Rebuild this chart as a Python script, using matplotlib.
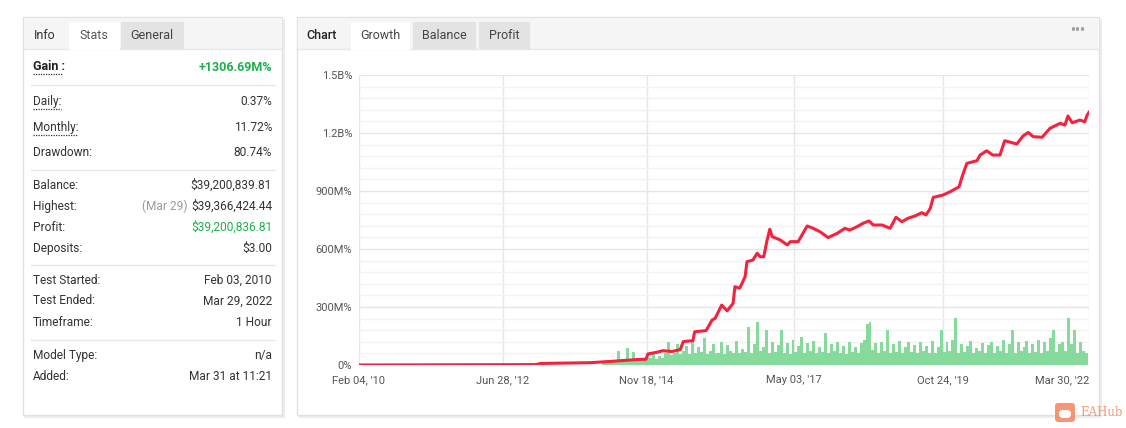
import matplotlib
matplotlib.use("Agg")
import matplotlib.pyplot as plt
from matplotlib.patches import Rectangle, FancyBboxPatch
from datetime import datetime, timedelta
import pandas as pd

plt.rcParams['font.family'] = ['Roboto', 'DejaVu Sans']

W, H = 1126, 428

# growth curve, decimal year -> growth in M%
growth_years = [2010.09, 2011.61, 2013.04, 2013.11, 2013.94, 2014.35, 2014.70, 2014.87, 2014.90,
                2015.05, 2015.15, 2015.30, 2015.44, 2015.49, 2015.65, 2015.68, 2015.87, 2015.97,
                2016.02, 2016.13, 2016.22, 2016.32, 2016.35, 2016.43, 2016.52, 2016.55, 2016.65,
                2016.72, 2016.77, 2016.83, 2016.88, 2016.93, 2016.97, 2017.10, 2017.22, 2017.27,
                2017.40, 2017.55, 2017.65, 2017.76, 2017.90, 2018.05, 2018.18, 2018.26, 2018.38,
                2018.48, 2018.58, 2018.65, 2018.80, 2018.93, 2019.03, 2019.13, 2019.23, 2019.35,
                2019.46, 2019.53, 2019.60, 2019.65, 2019.81, 2019.93, 2020.08, 2020.14, 2020.21,
                2020.38, 2020.43, 2020.54, 2020.64, 2020.76, 2020.84, 2021.04, 2021.14, 2021.23,
                2021.31, 2021.46, 2021.59, 2021.76, 2021.84, 2021.89, 2021.96, 2022.09, 2022.17,
                2022.21, 2022.24]
growth_vals = [0, 1, 2, 8, 12, 20, 28, 30, 57,
               66, 74, 70, 80, 121, 126, 172, 178, 233,
               241, 310, 280, 319, 405, 397, 457, 534, 543,
               578, 560, 560, 638, 702, 664, 647, 621, 638,
               638, 719, 707, 690, 659, 681, 707, 698, 715,
               733, 745, 724, 724, 707, 764, 741, 759, 771,
               788, 776, 810, 867, 879, 896, 922, 983, 1043,
               1057, 1086, 1108, 1086, 1086, 1160, 1143, 1184, 1203,
               1181, 1178, 1224, 1250, 1241, 1288, 1253, 1267, 1258,
               1293, 1307]

# profit bars (M% scale), one every 18 days from 2014-03-01
bar_start = "2014-03-01"
bar_vals = [15, 20, 12, 25, 18, 70, 22, 30, 90, 25, 68, 30, 20, 35, 28,
            40, 35, 55, 30, 45, 38, 60, 120,
            50, 62, 110, 55, 70, 100, 58, 130, 60, 95, 65, 140, 58, 72, 110, 60, 64, 120,
            55, 105, 70, 62, 125, 60, 85, 66,
            198, 60, 110, 224, 70, 95, 181, 62, 120, 68, 105, 180, 64, 115, 58, 130, 66, 100,
            146, 62, 112, 70, 125, 60, 95, 68, 164, 62, 108, 70, 118, 64, 100, 58, 120, 66,
            92, 60, 115, 130, 212, 224, 80, 112, 64, 120, 70, 181, 62, 110, 66, 125, 60, 95,
            120, 68, 105, 62, 118, 70, 100, 64, 122, 60, 95, 181, 66, 120, 70, 130, 241, 62,
            110, 66, 100, 124, 60, 90, 70, 115, 64, 105, 120, 62, 98, 70, 130, 64, 110, 181,
            62, 120, 70, 95, 126, 64, 110, 66, 130, 60, 120, 70, 140, 181, 66, 110, 120, 70,
            241, 110, 181, 64, 120, 70, 60]

y_ticks = [0, 300, 600, 900, 1200, 1500]
y_labels = ["0%", "300M%", "600M%", "900M%", "1.2B%", "1.5B%"]
x_ticks = ["2010-02-04", "2012-06-28", "2014-11-18", "2017-05-03", "2019-10-24", "2022-03-30"]
x_labels = ["Feb 04, '10", "Jun 28, '12", "Nov 18, '14", "May 03, '17", "Oct 24, '19", "Mar 30, '22"]

stats_rows = [
    ("Daily:", "0.37%", 101), ("Monthly:", "11.72%", 127), ("Drawdown:", "80.74%", 153),
    ("Balance:", "$39,200,839.81", 185), ("Highest:", "$39,366,424.44", 206),
    ("Profit:", "$39,200,836.81", 227), ("Deposits:", "$3.00", 248),
    ("Test Started:", "Feb 03, 2010", 280), ("Test Ended:", "Mar 29, 2022", 301),
    ("Timeframe:", "1 Hour", 323), ("Model Type:", "n/a", 355), ("Added:", "Mar 31 at 11:21", 376),
]


def yr2date(y):
    yr = int(y)
    return datetime(yr, 1, 1) + timedelta(days=(y - yr) * 365.25)


def fbox(x0, y0, x1, y1):
    # pixel box (top-left origin) -> figure fraction rect
    return [x0 / W, 1 - y1 / H, (x1 - x0) / W, (y1 - y0) / H]


fig = plt.figure(figsize=(W / 100, H / 100), dpi=100)
fig.patch.set_facecolor("white")

bg = fig.add_axes([0, 0, 1, 1])
bg.set_xlim(0, W)
bg.set_ylim(H, 0)
bg.axis("off")


def rect(x0, y0, x1, y1, fc, ec="none", lw=1, z=1):
    bg.add_patch(Rectangle((x0, y0), x1 - x0, y1 - y0, facecolor=fc, edgecolor=ec, lw=lw, zorder=z))


# panels with soft shadow
for (x0, x1) in [(23, 282), (297, 1099)]:
    rect(x0 + 1, 19, x1 + 3, 418, "#ececf0", z=0)
    rect(x0, 17, x1, 415, "white", "#e2e2e2", z=1)
    rect(x0 + 1, 18, x1 - 1, 49, "#f5f5f5", z=2)
    bg.plot([x0, x1], [49, 49], color="#e6e6e6", lw=1, zorder=3)

# left tabs
rect(69, 22, 120, 50, "white", z=4)
rect(121, 22, 184, 49, "#e3e3e3", z=4)
bg.text(45, 35, "Info", fontsize=9, color="#333333", ha="center", va="center", zorder=5)
bg.text(94, 35, "Stats", fontsize=9, color="#555555", ha="center", va="center", zorder=5)
bg.text(152, 35, "General", fontsize=9, color="#444444", ha="center", va="center", zorder=5)

# right tabs
rect(351, 22, 410, 50, "white", z=4)
rect(413, 22, 476, 49, "#e3e3e3", z=4)
rect(479, 22, 530, 49, "#e3e3e3", z=4)
bg.text(322, 35, "Chart", fontsize=9, color="#222222", ha="center", va="center", zorder=5, fontweight="medium")
bg.text(380, 35, "Growth", fontsize=9, color="#444444", ha="center", va="center", zorder=5)
bg.text(444, 35, "Balance", fontsize=9, color="#444444", ha="center", va="center", zorder=5)
bg.text(504, 35, "Profit", fontsize=9, color="#444444", ha="center", va="center", zorder=5)
bg.text(1078, 31, "•••", fontsize=10, fontweight="bold", color="#a0a0a0", ha="center", va="center", zorder=5)

# stats text
green = "#1ab14a"
bg.text(33, 66, "Gain :", fontsize=9, color="#222222", fontweight="bold", va="center", zorder=5)
bg.text(272, 67, "+1306.69M%", fontsize=9, color=green, fontweight="bold", ha="right", va="center", zorder=5)
for x1, yy in [(63, 74), (61, 109), (78, 135)]:
    bg.plot([33, x1], [yy, yy], color="#333333", lw=0.9, ls=(0, (1, 1)), zorder=5)
for yy in [85, 170, 265, 340]:
    bg.plot([31, 275], [yy, yy], color="#e8e8e8", lw=1, zorder=5)
for label, value, yy in stats_rows:
    bg.text(33, yy, label, fontsize=8.6, color="#333333", va="center", zorder=5)
    bg.text(272, yy, value, fontsize=8.6, color=green if label == "Profit:" else "#333333",
            ha="right", va="center", zorder=5)
bg.text(188, 206, "(Mar 29)", fontsize=8.6, color="#999999", ha="right", va="center", zorder=5)

# watermark
bg.add_patch(FancyBboxPatch((1055, 403), 20, 19, boxstyle="round,pad=0,rounding_size=3",
                            facecolor="#f5845f", edgecolor="none", alpha=0.85, zorder=6))
bg.add_patch(FancyBboxPatch((1059, 410), 12, 8, boxstyle="round,pad=0,rounding_size=4",
                            facecolor="white", edgecolor="none", zorder=7))
bg.text(1080, 413, "EAHub", fontsize=8.5, color="#f29a7c", family="DejaVu Serif", va="center", zorder=6)

# chart
ax = fig.add_axes(fbox(359, 75, 1089, 365))
ax.set_facecolor("none")
bar_dates = pd.date_range(bar_start, periods=len(bar_vals), freq="18D")
ax.bar(bar_dates, bar_vals, width=18, color="#86da9c", linewidth=0, zorder=2)
ax.plot([yr2date(v) for v in growth_years], growth_vals, color="#f5213d", lw=2.2, zorder=3)

ax.set_ylim(0, 1500)
ax.set_xlim(datetime(2010, 2, 4), datetime(2022, 3, 30))
ax.set_yticks(y_ticks)
ax.set_yticklabels(y_labels)
ax.set_yticks(range(0, 1501, 60), minor=True)
xt = [datetime.strptime(d, "%Y-%m-%d") for d in x_ticks]
ax.set_xticks(xt)
ax.set_xticklabels(x_labels)
ax.get_xticklabels()[-1].set_ha("right")
ax.grid(True, which="major", color="#e6e6e6", lw=1, zorder=0)
ax.grid(True, which="minor", axis="y", color="#f3f3f3", lw=1, zorder=0)
ax.tick_params(which="both", length=0, labelsize=8, labelcolor="#555555")
ax.tick_params(axis="y", pad=5)
ax.tick_params(axis="x", pad=7)
for s in ax.spines.values():
    s.set_visible(False)

fig.savefig("out.png", dpi=100)
